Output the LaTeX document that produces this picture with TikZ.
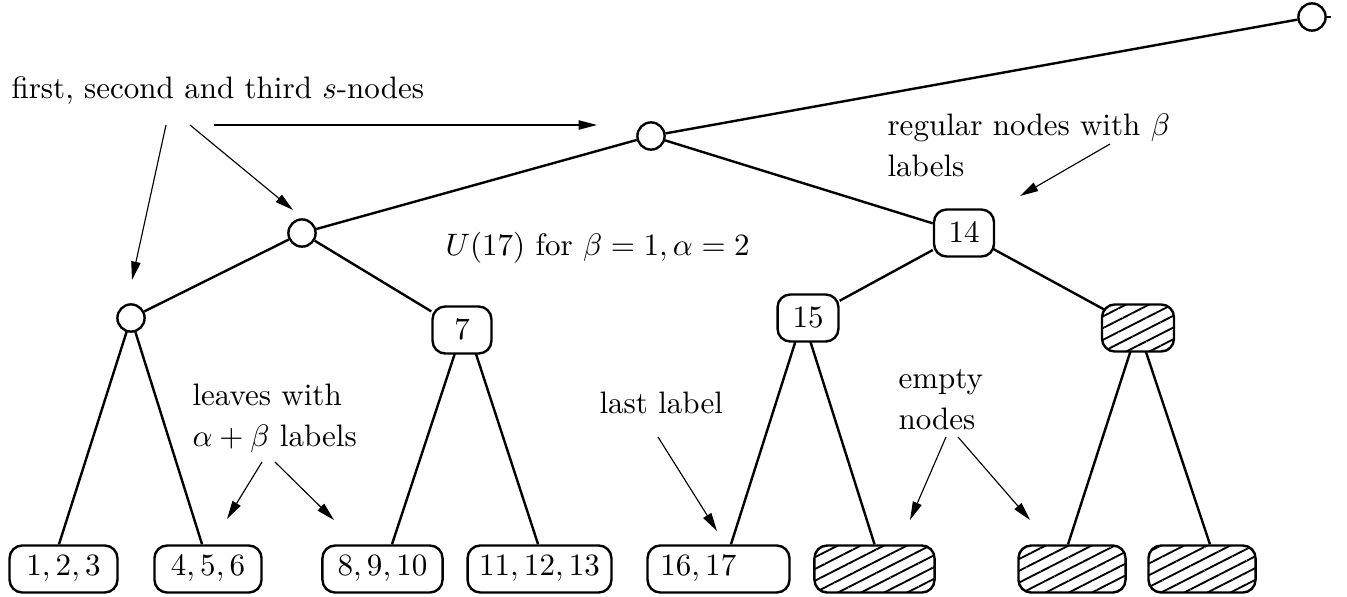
\documentclass[tikz,border=0pt]{standalone}
\usetikzlibrary{arrows.meta,patterns.meta,backgrounds}
\begin{document}
\begin{tikzpicture}[x=0.353pt,y=-0.353pt,
  every node/.style={font=\fontsize{10.95}{14.8}\selectfont},
  edge/.style={line width=0.85pt},
  arr/.style={line width=0.4pt,-{Triangle[length=6.5pt,width=3.3pt]}},
  snode/.style={circle,draw,line width=0.85pt,fill=white,minimum size=9.6pt,inner sep=0pt},
  rbox/.style={draw,line width=0.85pt,fill=white,rounded corners=4.5pt,minimum height=16.6pt,inner sep=0pt},
  hbox/.style={draw,line width=0.85pt,rounded corners=4.5pt,minimum height=16.6pt,inner sep=0pt,
    preaction={fill=white},pattern={Lines[angle=27,distance=3.7pt,line width=0.65pt]}},
  lbl/.style={anchor=base west,inner sep=0pt}
]
\useasboundingbox (0,0) rectangle (1347,596);

% s-nodes
\node[snode] (c0) at (1312,17) {};
\node[snode] (c1) at (651,136) {};
\node[snode] (c2) at (302,233) {};
\node[snode] (c3) at (131,318) {};
\coordinate (stub) at (1331,17);

% regular nodes
\node[rbox,minimum width=20.8pt] (b7) at (462,330) {$7$};
\node[rbox,minimum width=21.2pt] (b14) at (964,233) {$14$};
\node[rbox,minimum width=21.5pt] (b15) at (808,318) {$15$};
\node[hbox,minimum width=25.4pt] (h) at (1138,328) {};

% leaves
\node[rbox,minimum width=38.1pt] (L1) at (63.5,569) {$1,2,3$};
\node[rbox,minimum width=37.8pt] (L2) at (208,569) {$4,5,6$};
\node[rbox,minimum width=42.4pt] (L3) at (382.5,569) {$8,9,10$};
\node[rbox,minimum width=50.8pt] (L4) at (539.5,569) {$11,12,13$};
\node[rbox,minimum width=50.1pt] (L5) at (718.5,569) {\makebox[41pt][l]{$16,17$}};
\node[hbox,minimum width=42.4pt] (H1) at (874.5,569) {};
\node[hbox,minimum width=37.8pt] (H2) at (1072,569) {};
\node[hbox,minimum width=37.8pt] (H3) at (1202,569) {};

% tree edges
\begin{scope}[on background layer]
\draw[edge] (c1) -- (c0);
\draw[edge] (c0) -- (stub);
\draw[edge] (c1) -- (c2);
\draw[edge] (c1) -- (b14);
\draw[edge] (c2) -- (c3);
\draw[edge] (c2) -- (b7);
\draw[edge] (b14) -- (b15);
\draw[edge] (b14.center) -- (h.center);
\draw[edge] (c3.center) -- ([xshift=-1.6pt]L1.north);
\draw[edge] (c3.center) -- ([xshift=-2.1pt]L2.north);
\draw[edge] ([xshift=1.2pt,yshift=3pt]b7.center) -- ([xshift=3.35pt]L3.north);
\draw[edge] ([xshift=1.2pt,yshift=3pt]b7.center) -- ([xshift=-0.5pt]L4.north);
\draw[edge] ([xshift=-1.8pt]b15.center) -- ([xshift=4.4pt]L5.north);
\draw[edge] ([xshift=-1.8pt]b15.center) -- (H1.north);
\draw[edge] (h.center) -- ([xshift=-1.4pt]H2.north);
\draw[edge] (h.center) -- ([xshift=2.8pt]H3.north);
\end{scope}

% labels
\node[lbl] (tfirst) at (11,98) {first, second and third $s$-nodes};
\node[lbl] (treg) at (887,135) {\begin{tabular}[t]{@{}l@{}}regular nodes with $\beta$\\ labels\end{tabular}};
\node[lbl] (tU) at (445,255) {$U(17)$ for $\beta=1,\alpha=2$};
\node[lbl] (tleaves) at (192,405) {\begin{tabular}[t]{@{}l@{}}leaves with\\ $\alpha+\beta$ labels\end{tabular}};
\node[lbl] (tlast) at (599,413) {last label};
\node[lbl] (tempty) at (898,388) {\begin{tabular}[t]{@{}l@{}}empty\\ nodes\end{tabular}};

% annotation arrows
\coordinate (a1s) at (166,125); \coordinate (a1e) at (132,280);
\coordinate (a2s) at (190,125); \coordinate (a2e) at (293,210);
\coordinate (a3s) at (214,125); \coordinate (a3e) at (597,125);
\coordinate (a4s) at (1110,144); \coordinate (a4e) at (1020,196);
\coordinate (a5s) at (262,462); \coordinate (a5e) at (227,519);
\coordinate (a6s) at (275,462); \coordinate (a6e) at (334,520);
\coordinate (a7s) at (658,437); \coordinate (a7e) at (717,531);
\coordinate (a8s) at (946,437); \coordinate (a8e) at (910,520);
\coordinate (a9s) at (958,437); \coordinate (a9e) at (1030,520);
\foreach \i in {1,...,9} {\draw[arr] (a\i s) -- (a\i e);}
\end{tikzpicture}
\end{document}
